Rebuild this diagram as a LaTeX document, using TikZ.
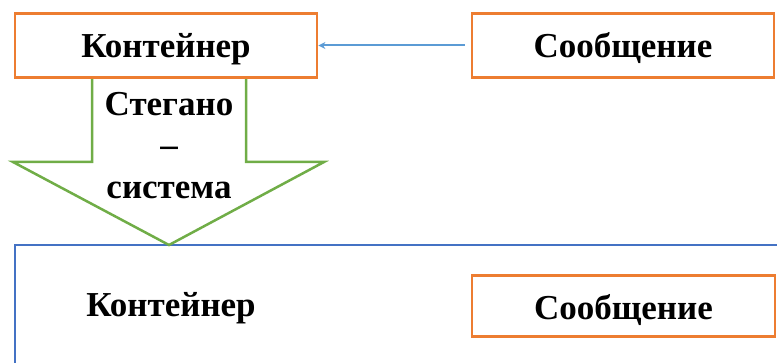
\documentclass[tikz,border=0pt]{standalone}
\usepackage{fontspec}
\setmainfont{Liberation Serif}
\usetikzlibrary{arrows.meta}
\definecolor{orng}{HTML}{ED7D31}
\definecolor{grn}{HTML}{70AD47}
\definecolor{lblue}{HTML}{5B9BD5}
\definecolor{dblue}{HTML}{4472C4}
\begin{document}
\begin{tikzpicture}[x=1pt,y=-1pt,
  lbl/.style={font=\fontsize{35}{38}\selectfont\bfseries, inner sep=0pt},
  obox/.style={lbl, draw=orng, line width=2.8pt, minimum width=302pt, minimum height=64pt,
    text height=27pt, text depth=2pt},
  conn/.style={draw=lblue, line width=2pt, -{Stealth[length=7pt,width=7pt]}}]
\useasboundingbox (0,0) rectangle (777,363);
\begin{scope}
\clip (0,0) rectangle (777,363);
% big blue frame
\draw[dblue, line width=2.5pt] (15,400) -- (15,245) -- (800,245);
% green arrow
\draw[grn, line width=2.5pt, line join=miter]
  (92,78) -- (92,162) -- (13,162) -- (169,245) -- (324,162) -- (246,162) -- (246,78);
\end{scope}
\node[obox] (cont) at (166,45.5) {Контейнер};
\node[obox] (msg) at (623,45.5) {Сообщение};
\draw[conn] (msg.west) ++(-6,0) coordinate (s) (s) -- (cont.east);
\node[lbl, align=center, font=\fontsize{35}{41.5}\selectfont\bfseries] (steg) at (169,145.5) {Стегано\\–\\система};
\node[lbl, anchor=base] (cont2) at (171,316.7) {Контейнер};
\node[obox, minimum height=61pt, minimum width=303pt, text height=28pt, text depth=0pt] (msg2) at (623.5,306) {Сообщение};
\end{tikzpicture}
\end{document}
